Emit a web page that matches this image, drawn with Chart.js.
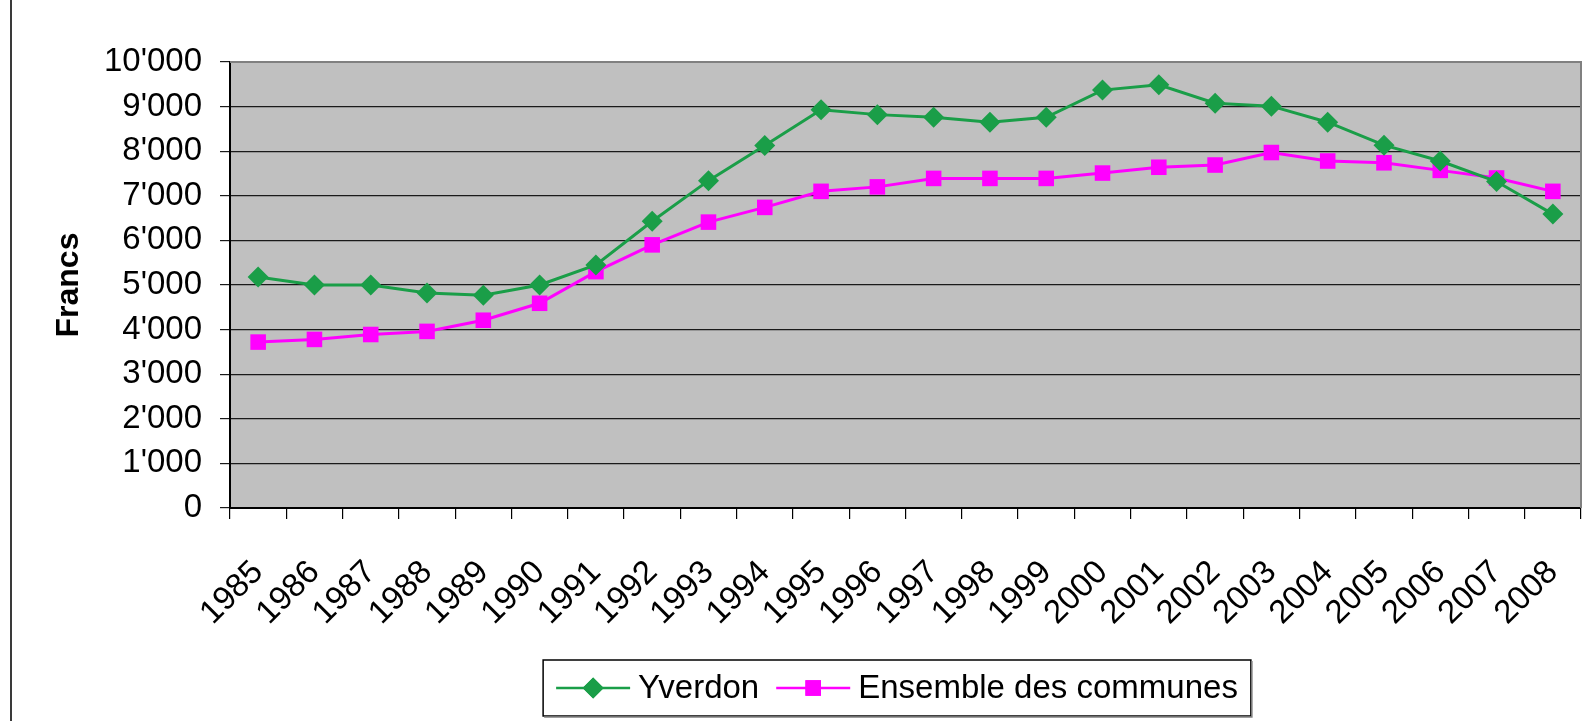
<!DOCTYPE html>
<html>
<head>
<meta charset="utf-8">
<script src="https://cdn.jsdelivr.net/npm/chart.js@4.4.1/dist/chart.umd.min.js"></script>
<style>
    html, body { margin: 0; padding: 0; background: #fff; }
    #wrap { position: relative; width: 1592px; height: 721px; }
    #frame { position: absolute; left: 10px; top: 0; height: 721px; border-left: 2px solid #3a3a3a; }
</style>
</head>
<body>
<div id="wrap">
    <canvas id="myChart" width="1592" height="721"></canvas>
    <div id="frame"></div>
</div>
<script>
// data
const years = ["1985", "1986", "1987", "1988", "1989", "1990", "1991", "1992", "1993", "1994", "1995", "1996",
    "1997", "1998", "1999", "2000", "2001", "2002", "2003", "2004", "2005", "2006", "2007", "2008"]
const yverdon = [5180, 5000, 5000, 4820, 4770, 5000, 5450, 6430, 7340, 8130, 8930, 8820,
    8760, 8650, 8760, 9370, 9490, 9075, 9010, 8650, 8135, 7780, 7320, 6590]
const ensemble = [3720, 3780, 3890, 3960, 4210, 4590, 5300, 5900, 6410, 6740, 7100, 7200,
    7390, 7390, 7390, 7510, 7640, 7690, 7970, 7780, 7740, 7570, 7400, 7100]
const yTicks = [0, 1000, 2000, 3000, 4000, 5000, 6000, 7000, 8000, 9000, 10000]
const seriesNames = ["Yverdon", "Ensemble des communes"]

const GREEN = "#1a9e48"
const MAGENTA = "#ff00ff"
const FONT = "'Liberation Sans', Arial, sans-serif"

function main() {
    buildChart("myChart")
}

// functions
function formatSwiss(v) {
    return String(v).replace(/\B(?=(\d{3})+(?!\d))/g, "'")
}

const plotBackground = {
    id: "plotBackground",
    beforeDraw(chart) {
        const { ctx, chartArea: a } = chart
        ctx.save()
        ctx.fillStyle = "#c0c0c0"
        ctx.fillRect(a.left, a.top, a.right - a.left, a.bottom - a.top)
        ctx.restore()
    },
    beforeDatasetsDraw(chart) {
        const { ctx, chartArea: a } = chart
        ctx.save()
        ctx.strokeStyle = "#808080"
        ctx.lineWidth = 2
        ctx.beginPath()
        ctx.moveTo(a.left, a.top)
        ctx.lineTo(a.right, a.top)
        ctx.lineTo(a.right, a.bottom)
        ctx.stroke()
        ctx.restore()
    }
}

const lineLegend = {
    id: "lineLegend",
    afterDraw(chart) {
        const ctx = chart.ctx
        const sets = chart.data.datasets
        ctx.save()
        ctx.font = "33px " + FONT
        ctx.textBaseline = "middle"
        const pad = 13, lineLen = 74, gapText = 8, gapItem = 17
        let total = pad * 2
        sets.forEach((ds, i) => {
            total += lineLen + gapText + ctx.measureText(ds.label).width
            if (i < sets.length - 1) total += gapItem
        })
        const boxTop = 660, boxH = 56
        const boxLeft = 897 - total / 2
        ctx.fillStyle = "#fff"
        ctx.fillRect(boxLeft, boxTop, total, boxH)
        ctx.strokeStyle = "#000"
        ctx.lineWidth = 1.5
        ctx.strokeRect(boxLeft, boxTop, total, boxH)
        ctx.strokeStyle = "#808080"
        ctx.beginPath()
        ctx.moveTo(boxLeft + 1, boxTop + boxH + 1)
        ctx.lineTo(boxLeft + total + 1, boxTop + boxH + 1)
        ctx.lineTo(boxLeft + total + 1, boxTop + 1)
        ctx.stroke()
        const cy = boxTop + boxH / 2
        let x = boxLeft + pad
        sets.forEach((ds) => {
            ctx.strokeStyle = ds.borderColor
            ctx.lineWidth = 2.5
            ctx.beginPath()
            ctx.moveTo(x, cy)
            ctx.lineTo(x + lineLen, cy)
            ctx.stroke()
            ctx.fillStyle = ds.borderColor
            Chart.helpers.drawPoint(ctx, { pointStyle: ds.pointStyle, radius: ds.pointRadius, borderWidth: 0 }, x + lineLen / 2, cy)
            ctx.fill()
            x += lineLen + gapText
            ctx.fillStyle = "#000"
            ctx.fillText(ds.label, x, cy + 1)
            x += ctx.measureText(ds.label).width + gapItem
        })
        ctx.restore()
    }
}

function buildChart(canvasId) {
    const ctx = document.getElementById(canvasId)

    new Chart(ctx, {
        type: "line",
        data: {
            labels: years,
            datasets: [
                {
                    label: seriesNames[0],
                    data: yverdon,
                    borderColor: GREEN,
                    backgroundColor: GREEN,
                    borderWidth: 3,
                    pointStyle: "rectRot",
                    pointRadius: 10.5,
                    pointBorderWidth: 0,
                    tension: 0
                },
                {
                    label: seriesNames[1],
                    data: ensemble,
                    borderColor: MAGENTA,
                    backgroundColor: MAGENTA,
                    borderWidth: 3,
                    pointStyle: "rect",
                    pointRadius: 11,
                    pointBorderWidth: 0,
                    tension: 0
                }
            ]
        },
        options: {
            responsive: false,
            animation: false,
            layout: { padding: { top: 62, right: 3, bottom: 0, left: 0 } },
            plugins: {
                legend: { display: false },
                tooltip: { enabled: false }
            },
            scales: {
                x: {
                    offset: true,
                    afterFit(scale) {
                        scale.height = 213
                        scale.paddingRight = 0
                    },
                    grid: {
                        offset: true,
                        drawOnChartArea: false,
                        drawTicks: true,
                        tickLength: 11,
                        color: "#000",
                        lineWidth: 1.2
                    },
                    border: { color: "#000", width: 2 },
                    ticks: {
                        autoSkip: false,
                        maxRotation: 45,
                        minRotation: 45,
                        padding: 34,
                        color: "#000",
                        font: { family: FONT, size: 33 }
                    }
                },
                y: {
                    min: 0,
                    max: 10000,
                    afterFit(scale) { scale.width = 230 },
                    afterBuildTicks(scale) { scale.ticks = yTicks.map(v => ({ value: v })) },
                    grid: {
                        color: "#1a1a1a",
                        lineWidth: 1.2,
                        tickLength: 10
                    },
                    border: { color: "#000", width: 2 },
                    ticks: {
                        padding: 18,
                        color: "#000",
                        font: { family: FONT, size: 33 },
                        callback: (v) => formatSwiss(v)
                    },
                    title: {
                        display: true,
                        text: "Francs",
                        color: "#000",
                        padding: { top: 50, bottom: 0 },
                        font: { family: FONT, size: 32, weight: "bold" }
                    }
                }
            }
        },
        plugins: [plotBackground, lineLegend]
    })
}

// listeners
document.addEventListener("DOMContentLoaded", main)
</script>
</body>
</html>
